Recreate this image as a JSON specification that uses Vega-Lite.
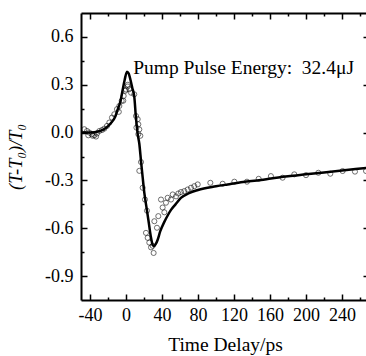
{
  "$schema": "https://vega.github.io/schema/vega-lite/v6.json",
  "width": 288,
  "height": 287,
  "autosize": {"type": "none"},
  "padding": {"left": 81, "top": 13, "right": 0, "bottom": 56},
  "background": "white",
  "config": {
    "view": {"stroke": null},
    "font": "'Liberation Serif', 'Times New Roman', serif",
    "axis": {
      "grid": false,
      "domainColor": "black",
      "domainWidth": 2,
      "tickColor": "black",
      "tickWidth": 1.5,
      "labelFont": "'Liberation Serif', 'Times New Roman', serif",
      "labelFontSize": 18,
      "labelColor": "black",
      "titleFont": "'Liberation Serif', 'Times New Roman', serif",
      "titleColor": "black",
      "titleFontWeight": "normal",
      "titleFontSize": 19.5
    }
  },
  "datasets": {
    "points": [
      {"t": -46.3, "v": 0.021}, {"t": -43.3, "v": 0.01}, {"t": -41.9, "v": -0.017}, {"t": -40.7, "v": 0.0},
      {"t": -38.1, "v": -0.01}, {"t": -37, "v": -0.02}, {"t": -35.2, "v": -0.017}, {"t": -33.3, "v": -0.025},
      {"t": -32.2, "v": -0.006}, {"t": -29.6, "v": 0.01}, {"t": -26.7, "v": 0.016}, {"t": -24.1, "v": 0.025},
      {"t": -21.1, "v": 0.042}, {"t": -18.5, "v": 0.063}, {"t": -15.6, "v": 0.094}, {"t": -13, "v": 0.115},
      {"t": -10, "v": 0.147}, {"t": -8, "v": 0.13}, {"t": -7.4, "v": 0.167}, {"t": -4.8, "v": 0.199},
      {"t": -3, "v": 0.2}, {"t": -2.6, "v": 0.23}, {"t": -0.8, "v": 0.262}, {"t": 0, "v": 0.27},
      {"t": 1.9, "v": 0.289}, {"t": 2, "v": 0.3}, {"t": 3.7, "v": 0.272}, {"t": 5.6, "v": 0.25},
      {"t": 9.2, "v": 0.24}, {"t": 11.1, "v": 0.104}, {"t": 13, "v": 0.084}, {"t": 11.6, "v": 0.031},
      {"t": 13.7, "v": 0.052}, {"t": 13.7, "v": -0.01}, {"t": 14.8, "v": 0.02}, {"t": 15.9, "v": -0.02},
      {"t": 14.8, "v": -0.24}, {"t": 16.7, "v": -0.185}, {"t": 18.5, "v": -0.346}, {"t": 21.1, "v": -0.42},
      {"t": 23.3, "v": -0.49}, {"t": 22.2, "v": -0.629}, {"t": 24.1, "v": -0.66}, {"t": 25.9, "v": -0.69},
      {"t": 27.8, "v": -0.72}, {"t": 29.6, "v": -0.71}, {"t": 30.7, "v": -0.755}, {"t": 31.5, "v": -0.556},
      {"t": 34.4, "v": -0.597}, {"t": 35.9, "v": -0.524}, {"t": 38.9, "v": -0.42}, {"t": 40.7, "v": -0.47},
      {"t": 42.6, "v": -0.5}, {"t": 44.4, "v": -0.44}, {"t": 46.3, "v": -0.409}, {"t": 50, "v": -0.42},
      {"t": 51.9, "v": -0.388}, {"t": 55.6, "v": -0.4}, {"t": 58.1, "v": -0.382}, {"t": 61.1, "v": -0.373},
      {"t": 64.8, "v": -0.367}, {"t": 68.5, "v": -0.357}, {"t": 72.2, "v": -0.346}, {"t": 75.9, "v": -0.336}
    ],
    "pointsLate": [
      {"t": 79.7, "v": -0.325}, {"t": 93.7, "v": -0.315}, {"t": 107.4, "v": -0.321}, {"t": 120.4, "v": -0.308},
      {"t": 134.4, "v": -0.308}, {"t": 147.4, "v": -0.29}, {"t": 161, "v": -0.273}, {"t": 174, "v": -0.283},
      {"t": 187, "v": -0.262}, {"t": 200, "v": -0.267}, {"t": 213.7, "v": -0.252}, {"t": 227, "v": -0.258},
      {"t": 240.7, "v": -0.241}, {"t": 254.4, "v": -0.245}, {"t": 266.7, "v": -0.241}
    ],
    "fit": [
      {"t": -50, "v": 0.0}, {"t": -40, "v": 0.0}, {"t": -30, "v": 0.008}, {"t": -27.8, "v": 0.012},
      {"t": -22, "v": 0.03}, {"t": -16.7, "v": 0.06}, {"t": -12, "v": 0.1}, {"t": -9.2, "v": 0.145},
      {"t": -6, "v": 0.2}, {"t": -3.7, "v": 0.268}, {"t": -1.5, "v": 0.33}, {"t": 1.1, "v": 0.382},
      {"t": 3, "v": 0.37}, {"t": 5, "v": 0.33}, {"t": 7, "v": 0.28}, {"t": 9.2, "v": 0.225},
      {"t": 11.1, "v": 0.09}, {"t": 13, "v": -0.01}, {"t": 14.8, "v": -0.07}, {"t": 16.7, "v": -0.18},
      {"t": 18.5, "v": -0.28}, {"t": 20.3, "v": -0.375}, {"t": 22.5, "v": -0.46}, {"t": 24.8, "v": -0.545},
      {"t": 27.5, "v": -0.65}, {"t": 29.7, "v": -0.705}, {"t": 31, "v": -0.712}, {"t": 33, "v": -0.7},
      {"t": 35.2, "v": -0.672}, {"t": 38, "v": -0.62}, {"t": 42.6, "v": -0.56}, {"t": 46.3, "v": -0.52},
      {"t": 50, "v": -0.485}, {"t": 55, "v": -0.45}, {"t": 61, "v": -0.41}, {"t": 70, "v": -0.38},
      {"t": 80, "v": -0.36}, {"t": 100, "v": -0.337}, {"t": 113, "v": -0.325}, {"t": 130, "v": -0.31},
      {"t": 150, "v": -0.298}, {"t": 161, "v": -0.288}, {"t": 180, "v": -0.274}, {"t": 200, "v": -0.262},
      {"t": 220, "v": -0.25}, {"t": 240, "v": -0.238}, {"t": 270, "v": -0.22}
    ],
    "note": [{"t": 8, "v": 0.366, "label": "Pump Pulse Energy:\u200232.4μJ"}]
  },
  "layer": [
    {
      "data": {"name": "points"},
      "mark": {"type": "point", "shape": "circle", "filled": false, "stroke": "black", "strokeWidth": 0.8, "size": 26, "clip": true},
      "encoding": {
        "x": {
          "field": "t", "type": "quantitative",
          "scale": {"domain": [-50, 270], "nice": false, "zero": false},
          "axis": {
            "orient": "bottom",
            "values": [-40, 0, 40, 80, 120, 160, 200, 240],
            "labelExpr": "toString(datum.value)",
            "tickSize": -6,
            "labelPadding": 12,
            "title": "Time Delay/ps",
            "titlePadding": 11
          }
        },
        "y": {
          "field": "v", "type": "quantitative",
          "scale": {"domain": [-1.05, 0.75], "nice": false, "zero": false},
          "axis": {
            "orient": "left",
            "values": [-0.9, -0.6, -0.3, 0, 0.3, 0.6],
            "labelExpr": "datum.value === 0 ? '0.0' : toString(datum.value)",
            "tickSize": -6,
            "labelPadding": 14,
            "title": "(T-T₀)/T₀",
            "titleFontSize": 18.5,
            "titleFontStyle": "italic",
            "titlePadding": 19
          }
        }
      }
    },
    {
      "data": {"name": "pointsLate"},
      "mark": {"type": "point", "shape": "circle", "filled": false, "stroke": "black", "strokeWidth": 0.8, "size": 26, "clip": true},
      "encoding": {
        "x": {
          "field": "t", "type": "quantitative",
          "axis": {
            "orient": "bottom",
            "values": [-20, 20, 60, 100, 140, 180, 220, 260],
            "labels": false, "domain": false,
            "tickSize": -3,
            "title": null
          }
        },
        "y": {
          "field": "v", "type": "quantitative",
          "axis": {
            "orient": "left",
            "values": [-0.75, -0.45, -0.15, 0.15, 0.45],
            "labels": false, "domain": false,
            "tickSize": -3,
            "title": null
          }
        }
      }
    },
    {
      "data": {"name": "fit"},
      "mark": {"type": "line", "color": "black", "strokeWidth": 2.5, "clip": true, "interpolate": "monotone"},
      "encoding": {
        "x": {
          "field": "t", "type": "quantitative",
          "axis": {
            "orient": "top",
            "values": [-40, 0, 40, 80, 120, 160, 200, 240],
            "labels": false,
            "tickSize": -6,
            "title": null
          }
        },
        "y": {
          "field": "v", "type": "quantitative",
          "axis": {
            "orient": "right",
            "values": [-0.9, -0.6, -0.3, 0, 0.3, 0.6],
            "labels": false,
            "tickSize": -6,
            "title": null
          }
        }
      }
    },
    {
      "data": {"name": "note"},
      "mark": {"type": "text", "align": "left", "baseline": "alphabetic", "fontSize": 19.5, "color": "black"},
      "encoding": {
        "x": {
          "field": "t", "type": "quantitative",
          "axis": {
            "orient": "top",
            "values": [-20, 20, 60, 100, 140, 180, 220, 260],
            "labels": false, "domain": false,
            "tickSize": -3,
            "title": null
          }
        },
        "y": {
          "field": "v", "type": "quantitative",
          "axis": {
            "orient": "right",
            "values": [-0.75, -0.45, -0.15, 0.15, 0.45],
            "labels": false, "domain": false,
            "tickSize": -3,
            "title": null
          }
        },
        "text": {"field": "label"}
      }
    }
  ],
  "resolve": {"axis": {"x": "independent", "y": "independent"}}
}
